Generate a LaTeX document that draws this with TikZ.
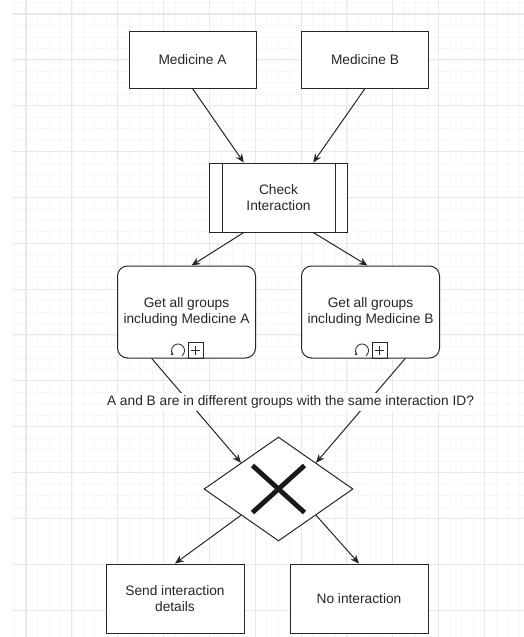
\documentclass[tikz,border=0pt]{standalone}
\usepackage{fontspec}
\setmainfont{Liberation Sans}
\usetikzlibrary{arrows.meta,calc,shapes.geometric}

\begin{document}
\begin{tikzpicture}[x={(0.75pt,0)},y={(0,-0.75pt)},
    every node/.style={font=\fontsize{10.3}{12.5}\selectfont,text=black!85,align=center},
    task/.style={draw=black!85,line width=.75pt,fill=white,minimum width=103.5pt,minimum height=51.75pt,inner sep=0pt},
    flow/.style={draw=black!85,line width=.75pt,-{Stealth[length=6.5pt,width=5.5pt]}},
    icon/.style={draw=black!85,line width=.6pt}]
    \useasboundingbox (0,0) rectangle (524,637);
    \fill[white] (0,0) rectangle (524,637);
    \begin{scope}
      \clip (12,0) rectangle (524,637);
      \foreach \i in {0,...,45} {
        \draw[black!3,line width=.5pt] (3.075+11.4625*\i,0) -- ++(0,637);
        \draw[black!3,line width=.5pt] (0,2.54+11.4625*\i) -- ++(524,0);
      }
      \foreach \i in {-1,...,14} {
        \draw[black!9,line width=.8pt] (26+45.85*\i,0) -- ++(0,637);
        \draw[black!9,line width=.8pt] (0,14+45.85*\i) -- ++(524,0);
      }
    \end{scope}

    \node[task,minimum width=95.25pt,minimum height=42.75pt] (medA) at (192.5,59.5) {Medicine A};
    \node[task,minimum width=95.25pt,minimum height=42.75pt] (medB) at (365,59.5) {Medicine B};
    \node[task] (check) at (278.5,197.5) {Check\\Interaction};
    \draw[icon,line width=.75pt] ([xshift=9.75pt]check.north west) -- ([xshift=9.75pt]check.south west);
    \draw[icon,line width=.75pt] ([xshift=-9.75pt]check.north east) -- ([xshift=-9.75pt]check.south east);

    \node[task,rounded corners=7.5pt,minimum height=69pt] (grpA) at (186.5,312) {Get all groups\\including Medicine A};
    \node[task,rounded corners=7.5pt,minimum height=69pt] (grpB) at (370.5,312) {Get all groups\\including Medicine B};
    \foreach \g in {grpA,grpB} {
      \draw[icon] ($(\g.south)+(1.5,0)$) rectangle ++(15,-16);
      \draw[icon] ($(\g.south)+(9,-3.5)$) -- ++(0,-9) ($(\g.south)+(4.5,-8)$) -- ++(9,0);
      \draw[icon,-{Stealth[length=2pt,width=2.5pt]}] ($(\g.south)+(-8.5,-8)$) ++(-50:4.9pt)
        arc[start angle=-50,end angle=225,radius=4.9pt];
    }

    \node[diamond,draw=black!85,line width=.75pt,fill=white,inner sep=0pt,
      minimum width=111.75pt,minimum height=78pt] (gate) at (278.5,489) {};
    \draw[black!90,line width=3.6pt] ($(gate)+(-26,-23.5)$) -- ($(gate)+(26,23.5)$);
    \draw[black!90,line width=3.6pt] ($(gate)+(26,-23.5)$) -- ($(gate)+(-26,23.5)$);

    \node[task] (send) at (175,598.5) {Send interaction\\details};
    \node[task] (noint) at (359,598.5) {No interaction};

    \draw[flow] (medA.south) -- ($(check.north west)!.25!(check.north east)$);
    \draw[flow] (medB.south) -- ($(check.north west)!.75!(check.north east)$);
    \draw[flow] ($(check.south west)!.25!(check.south east)$) -- ($(grpA.north)+(5,0)$);
    \draw[flow] ($(check.south west)!.75!(check.south east)$) -- ($(grpB.north)+(-3,0)$);
    \draw[flow] ($(grpA.south west)!.25!(grpA.south east)$) -- ($(gate.west)!.5!(gate.north)$);
    \draw[flow] ($(grpB.south west)!.75!(grpB.south east)$) -- ($(gate.east)!.5!(gate.north)$);
    \draw[flow] ($(gate.west)!.5!(gate.south)$) -- (send.north);
    \draw[flow] ($(gate.east)!.5!(gate.south)$) -- (noint.north);

    \node[fill=white,inner sep=2pt] (ask) at (290.5,402) {A and B are in different groups with the same interaction ID?};
  \end{tikzpicture}
\end{document}
